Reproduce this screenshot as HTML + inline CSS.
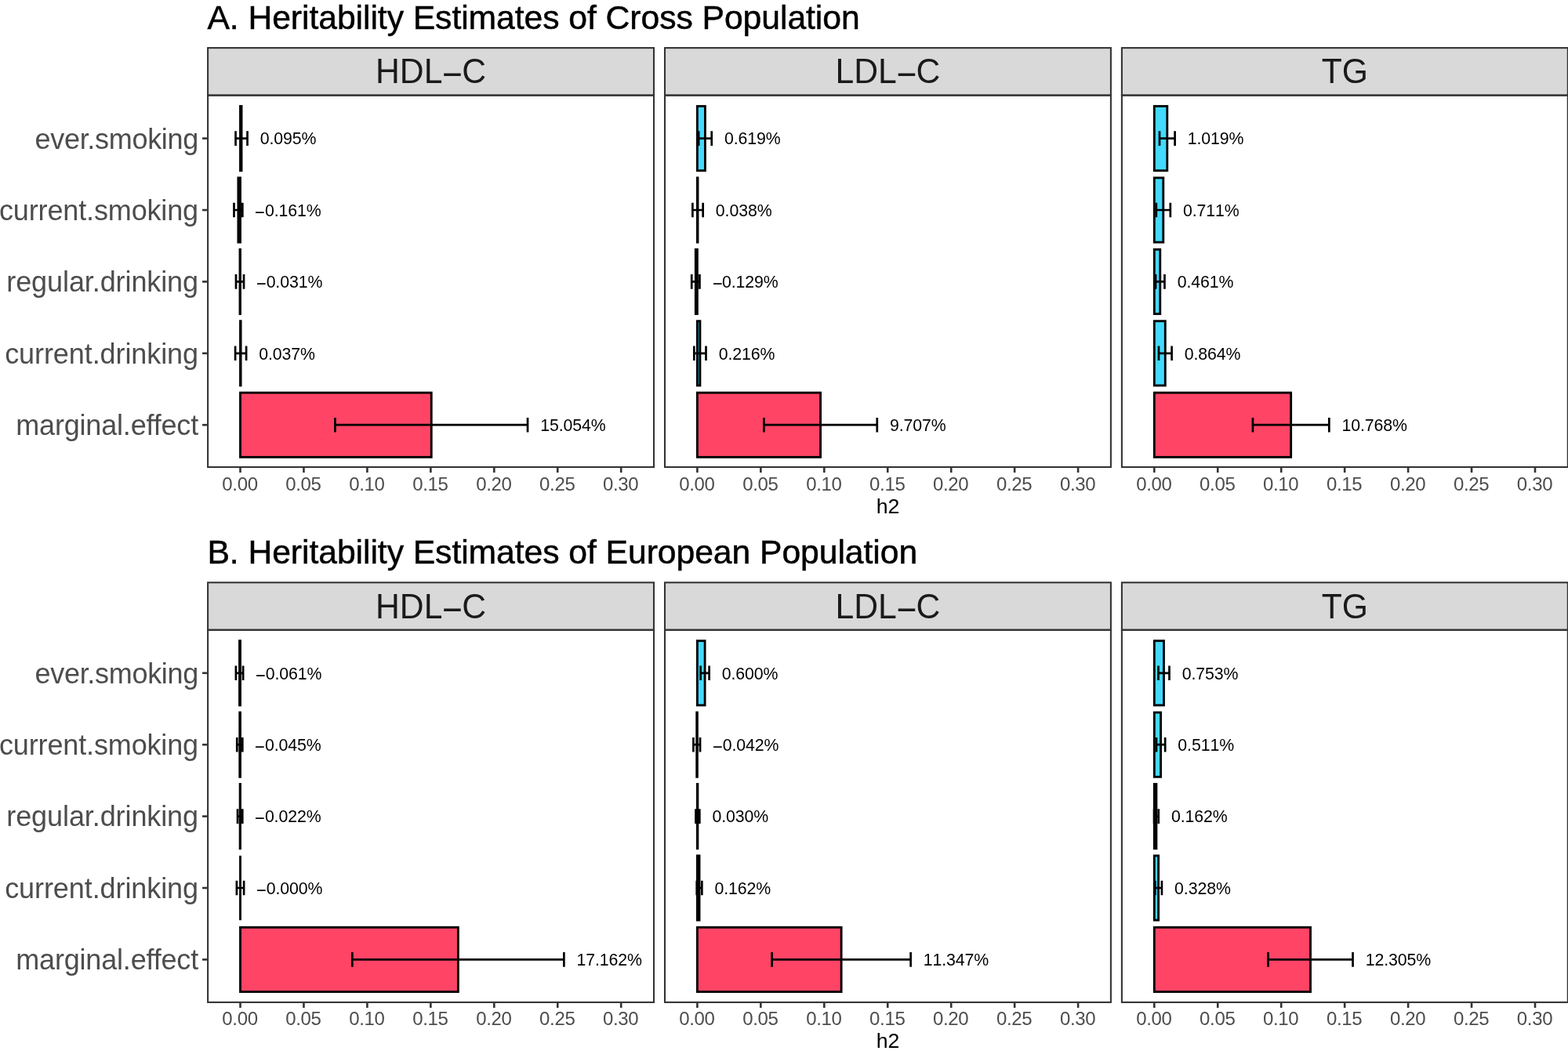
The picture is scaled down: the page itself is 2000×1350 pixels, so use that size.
<!DOCTYPE html>
<html lang="en">
<head>
<meta charset="utf-8">
<title>Heritability Estimates</title>
<style>
html,body{margin:0;padding:0;background:#fff;}
body{width:2000px;height:1350px;overflow:hidden;}
#fig{position:relative;width:2000px;height:1350px;background:#fff;overflow:hidden;font-family:"Liberation Sans",sans-serif;}
#fig svg{position:absolute;left:0;top:0;}
.t{position:absolute;white-space:nowrap;line-height:1;margin:0;padding:0;}
.n{font-kerning:none;}
.m{display:inline-block;width:0.584em;text-align:center;letter-spacing:0;transform:translateY(0.025em) scaleX(2.07);}
.ln{stroke:#333333;stroke-width:2.6;fill:none;}
.bd{stroke:#333333;stroke-width:2.07;}
.bar{stroke:#000;stroke-width:2.85;stroke-linejoin:miter;}
.eb{stroke:#000;stroke-width:2.7;fill:none;}
</style>
</head>
<body>
<div id="fig">
<svg width="2000" height="1350" viewBox="0 0 2000 1350" aria-hidden="true">
<line x1="258.06" x2="264.06" y1="176.6" y2="176.6" class="ln"/>
<line x1="258.06" x2="264.06" y1="268" y2="268" class="ln"/>
<line x1="258.06" x2="264.06" y1="359.4" y2="359.4" class="ln"/>
<line x1="258.06" x2="264.06" y1="450.8" y2="450.8" class="ln"/>
<line x1="258.06" x2="264.06" y1="542.2" y2="542.2" class="ln"/>
<rect x="306.5" y="135.5" width="1.54" height="82.2" fill="#44D9FF" class="bar"/>
<rect x="303.89" y="226.9" width="2.61" height="82.2" fill="#44D9FF" class="bar"/>
<rect x="306" y="318.3" width="0.5" height="82.2" fill="#44D9FF" class="bar"/>
<rect x="306.5" y="409.7" width="0.6" height="82.2" fill="#44D9FF" class="bar"/>
<rect x="306.5" y="501.1" width="243.72" height="82.2" fill="#FF4466" class="bar"/>
<path d="M300.54 167.3V185.9M300.54 176.6H315.54M315.54 167.3V185.9" class="eb"/>
<path d="M298.49 258.7V277.3M298.49 268H309.29M309.29 258.7V277.3" class="eb"/>
<path d="M301 350.1V368.7M301 359.4H311M311 350.1V368.7" class="eb"/>
<path d="M300.1 441.5V460.1M300.1 450.8H314.1M314.1 441.5V460.1" class="eb"/>
<path d="M427.42 532.9V551.5M427.42 542.2H673.02M673.02 532.9V551.5" class="eb"/>
<rect x="265.1" y="61.1" width="568.9" height="60.4" fill="#D9D9D9" class="bd"/>
<rect x="265.1" y="121.7" width="568.9" height="474.3" fill="none" class="bd"/>
<line x1="306.5" x2="306.5" y1="597.03" y2="603.03" class="ln"/>
<line x1="387.45" x2="387.45" y1="597.03" y2="603.03" class="ln"/>
<line x1="468.4" x2="468.4" y1="597.03" y2="603.03" class="ln"/>
<line x1="549.35" x2="549.35" y1="597.03" y2="603.03" class="ln"/>
<line x1="630.3" x2="630.3" y1="597.03" y2="603.03" class="ln"/>
<line x1="711.25" x2="711.25" y1="597.03" y2="603.03" class="ln"/>
<line x1="792.2" x2="792.2" y1="597.03" y2="603.03" class="ln"/>
<rect x="889.4" y="135.5" width="10.02" height="82.2" fill="#44D9FF" class="bar"/>
<rect x="889.4" y="226.9" width="0.62" height="82.2" fill="#44D9FF" class="bar"/>
<rect x="887.31" y="318.3" width="2.09" height="82.2" fill="#44D9FF" class="bar"/>
<rect x="889.4" y="409.7" width="3.5" height="82.2" fill="#44D9FF" class="bar"/>
<rect x="889.4" y="501.1" width="157.16" height="82.2" fill="#FF4466" class="bar"/>
<path d="M891.12 167.3V185.9M891.12 176.6H907.72M907.72 167.3V185.9" class="eb"/>
<path d="M883.37 258.7V277.3M883.37 268H896.67M896.67 258.7V277.3" class="eb"/>
<path d="M882.21 350.1V368.7M882.21 359.4H892.41M892.41 350.1V368.7" class="eb"/>
<path d="M885.3 441.5V460.1M885.3 450.8H900.5M900.5 441.5V460.1" class="eb"/>
<path d="M974.36 532.9V551.5M974.36 542.2H1118.76M1118.76 532.9V551.5" class="eb"/>
<rect x="848" y="61.1" width="568.9" height="60.4" fill="#D9D9D9" class="bd"/>
<rect x="848" y="121.7" width="568.9" height="474.3" fill="none" class="bd"/>
<line x1="889.4" x2="889.4" y1="597.03" y2="603.03" class="ln"/>
<line x1="970.35" x2="970.35" y1="597.03" y2="603.03" class="ln"/>
<line x1="1051.3" x2="1051.3" y1="597.03" y2="603.03" class="ln"/>
<line x1="1132.25" x2="1132.25" y1="597.03" y2="603.03" class="ln"/>
<line x1="1213.2" x2="1213.2" y1="597.03" y2="603.03" class="ln"/>
<line x1="1294.15" x2="1294.15" y1="597.03" y2="603.03" class="ln"/>
<line x1="1375.1" x2="1375.1" y1="597.03" y2="603.03" class="ln"/>
<rect x="1472.3" y="135.5" width="16.5" height="82.2" fill="#44D9FF" class="bar"/>
<rect x="1472.3" y="226.9" width="11.51" height="82.2" fill="#44D9FF" class="bar"/>
<rect x="1472.3" y="318.3" width="7.46" height="82.2" fill="#44D9FF" class="bar"/>
<rect x="1472.3" y="409.7" width="13.99" height="82.2" fill="#44D9FF" class="bar"/>
<rect x="1472.3" y="501.1" width="174.33" height="82.2" fill="#FF4466" class="bar"/>
<path d="M1479 167.3V185.9M1479 176.6H1498.6M1498.6 167.3V185.9" class="eb"/>
<path d="M1474.81 258.7V277.3M1474.81 268H1492.81M1492.81 258.7V277.3" class="eb"/>
<path d="M1474.06 350.1V368.7M1474.06 359.4H1485.46M1485.46 350.1V368.7" class="eb"/>
<path d="M1477.99 441.5V460.1M1477.99 450.8H1494.59M1494.59 441.5V460.1" class="eb"/>
<path d="M1597.93 532.9V551.5M1597.93 542.2H1695.33M1695.33 532.9V551.5" class="eb"/>
<rect x="1430.9" y="61.1" width="568.9" height="60.4" fill="#D9D9D9" class="bd"/>
<rect x="1430.9" y="121.7" width="568.9" height="474.3" fill="none" class="bd"/>
<line x1="1472.3" x2="1472.3" y1="597.03" y2="603.03" class="ln"/>
<line x1="1553.25" x2="1553.25" y1="597.03" y2="603.03" class="ln"/>
<line x1="1634.2" x2="1634.2" y1="597.03" y2="603.03" class="ln"/>
<line x1="1715.15" x2="1715.15" y1="597.03" y2="603.03" class="ln"/>
<line x1="1796.1" x2="1796.1" y1="597.03" y2="603.03" class="ln"/>
<line x1="1877.05" x2="1877.05" y1="597.03" y2="603.03" class="ln"/>
<line x1="1958" x2="1958" y1="597.03" y2="603.03" class="ln"/>
<line x1="258.06" x2="264.06" y1="858.8" y2="858.8" class="ln"/>
<line x1="258.06" x2="264.06" y1="950.2" y2="950.2" class="ln"/>
<line x1="258.06" x2="264.06" y1="1041.6" y2="1041.6" class="ln"/>
<line x1="258.06" x2="264.06" y1="1133" y2="1133" class="ln"/>
<line x1="258.06" x2="264.06" y1="1224.4" y2="1224.4" class="ln"/>
<rect x="305.51" y="817.7" width="0.99" height="82.2" fill="#44D9FF" class="bar"/>
<rect x="305.77" y="909.1" width="0.73" height="82.2" fill="#44D9FF" class="bar"/>
<rect x="306.14" y="1000.5" width="0.36" height="82.2" fill="#44D9FF" class="bar"/>
<rect x="305.07" y="1091.8" width="2.85" height="82.4" fill="#000"/>
<rect x="306.5" y="1183.3" width="277.85" height="82.2" fill="#FF4466" class="bar"/>
<path d="M300.91 849.5V868.1M300.91 858.8H310.11M310.11 849.5V868.1" class="eb"/>
<path d="M302.27 940.9V959.5M302.27 950.2H309.27M309.27 940.9V959.5" class="eb"/>
<path d="M303.04 1032.3V1050.9M303.04 1041.6H309.24M309.24 1032.3V1050.9" class="eb"/>
<path d="M301.9 1123.7V1142.3M301.9 1133H311.1M311.1 1123.7V1142.3" class="eb"/>
<path d="M449.35 1215.1V1233.7M449.35 1224.4H719.35M719.35 1215.1V1233.7" class="eb"/>
<rect x="265.1" y="743.3" width="568.9" height="60.4" fill="#D9D9D9" class="bd"/>
<rect x="265.1" y="803.9" width="568.9" height="475" fill="none" class="bd"/>
<line x1="306.5" x2="306.5" y1="1279.94" y2="1285.94" class="ln"/>
<line x1="387.45" x2="387.45" y1="1279.94" y2="1285.94" class="ln"/>
<line x1="468.4" x2="468.4" y1="1279.94" y2="1285.94" class="ln"/>
<line x1="549.35" x2="549.35" y1="1279.94" y2="1285.94" class="ln"/>
<line x1="630.3" x2="630.3" y1="1279.94" y2="1285.94" class="ln"/>
<line x1="711.25" x2="711.25" y1="1279.94" y2="1285.94" class="ln"/>
<line x1="792.2" x2="792.2" y1="1279.94" y2="1285.94" class="ln"/>
<rect x="889.4" y="817.7" width="9.71" height="82.2" fill="#44D9FF" class="bar"/>
<rect x="888.72" y="909.1" width="0.68" height="82.2" fill="#44D9FF" class="bar"/>
<rect x="889.4" y="1000.5" width="0.49" height="82.2" fill="#44D9FF" class="bar"/>
<rect x="889.4" y="1091.9" width="2.62" height="82.2" fill="#44D9FF" class="bar"/>
<rect x="889.4" y="1183.3" width="183.71" height="82.2" fill="#FF4466" class="bar"/>
<path d="M893.61 849.5V868.1M893.61 858.8H904.61M904.61 849.5V868.1" class="eb"/>
<path d="M884.42 940.9V959.5M884.42 950.2H893.02M893.02 940.9V959.5" class="eb"/>
<path d="M887.49 1032.3V1050.9M887.49 1041.6H892.29M892.29 1032.3V1050.9" class="eb"/>
<path d="M888.72 1123.7V1142.3M888.72 1133H895.32M895.32 1123.7V1142.3" class="eb"/>
<path d="M984.61 1215.1V1233.7M984.61 1224.4H1161.61M1161.61 1215.1V1233.7" class="eb"/>
<rect x="848" y="743.3" width="568.9" height="60.4" fill="#D9D9D9" class="bd"/>
<rect x="848" y="803.9" width="568.9" height="475" fill="none" class="bd"/>
<line x1="889.4" x2="889.4" y1="1279.94" y2="1285.94" class="ln"/>
<line x1="970.35" x2="970.35" y1="1279.94" y2="1285.94" class="ln"/>
<line x1="1051.3" x2="1051.3" y1="1279.94" y2="1285.94" class="ln"/>
<line x1="1132.25" x2="1132.25" y1="1279.94" y2="1285.94" class="ln"/>
<line x1="1213.2" x2="1213.2" y1="1279.94" y2="1285.94" class="ln"/>
<line x1="1294.15" x2="1294.15" y1="1279.94" y2="1285.94" class="ln"/>
<line x1="1375.1" x2="1375.1" y1="1279.94" y2="1285.94" class="ln"/>
<rect x="1472.3" y="817.7" width="12.19" height="82.2" fill="#44D9FF" class="bar"/>
<rect x="1472.3" y="909.1" width="8.27" height="82.2" fill="#44D9FF" class="bar"/>
<rect x="1472.3" y="1000.5" width="2.62" height="82.2" fill="#44D9FF" class="bar"/>
<rect x="1472.3" y="1091.9" width="5.31" height="82.2" fill="#44D9FF" class="bar"/>
<rect x="1472.3" y="1183.3" width="199.22" height="82.2" fill="#FF4466" class="bar"/>
<path d="M1477.49 849.5V868.1M1477.49 858.8H1491.49M1491.49 849.5V868.1" class="eb"/>
<path d="M1474.97 940.9V959.5M1474.97 950.2H1486.17M1486.17 940.9V959.5" class="eb"/>
<path d="M1472.12 1032.3V1050.9M1472.12 1041.6H1477.72M1477.72 1032.3V1050.9" class="eb"/>
<path d="M1473.31 1123.7V1142.3M1473.31 1133H1481.91M1481.91 1123.7V1142.3" class="eb"/>
<path d="M1617.52 1215.1V1233.7M1617.52 1224.4H1725.52M1725.52 1215.1V1233.7" class="eb"/>
<rect x="1430.9" y="743.3" width="568.9" height="60.4" fill="#D9D9D9" class="bd"/>
<rect x="1430.9" y="803.9" width="568.9" height="475" fill="none" class="bd"/>
<line x1="1472.3" x2="1472.3" y1="1279.94" y2="1285.94" class="ln"/>
<line x1="1553.25" x2="1553.25" y1="1279.94" y2="1285.94" class="ln"/>
<line x1="1634.2" x2="1634.2" y1="1279.94" y2="1285.94" class="ln"/>
<line x1="1715.15" x2="1715.15" y1="1279.94" y2="1285.94" class="ln"/>
<line x1="1796.1" x2="1796.1" y1="1279.94" y2="1285.94" class="ln"/>
<line x1="1877.05" x2="1877.05" y1="1279.94" y2="1285.94" class="ln"/>
<line x1="1958" x2="1958" y1="1279.94" y2="1285.94" class="ln"/>
</svg>
<div class="t" style="top:1px;font-size:42.67px;color:#000;letter-spacing:-0.05px;-webkit-text-stroke:0.5px #000;left:264.4px;">A. Heritability Estimates of Cross Population</div>
<div class="t" style="top:633px;font-size:26.67px;color:#000;left:1132.5px;transform:translateX(-50%);">h2</div>
<div class="t" style="top:160px;font-size:36px;color:#4D4D4D;letter-spacing:-0.3px;right:1747px;">ever.smoking</div>
<div class="t" style="top:251px;font-size:36px;color:#4D4D4D;letter-spacing:-0.14px;right:1747px;">current.smoking</div>
<div class="t" style="top:342px;font-size:36px;color:#4D4D4D;letter-spacing:-0.09px;right:1747px;">regular.drinking</div>
<div class="t" style="top:434px;font-size:36px;color:#4D4D4D;letter-spacing:-0.08px;right:1747px;">current.drinking</div>
<div class="t" style="top:525px;font-size:36px;color:#4D4D4D;letter-spacing:-0.18px;right:1747px;">marginal.effect</div>
<div class="t n" style="top:167px;font-size:21.3px;color:#000;letter-spacing:-0.1px;left:331.74px;">0.095%</div>
<div class="t n" style="top:259px;font-size:21.3px;color:#000;letter-spacing:-0.1px;left:325.49px;"><span class="m">-</span>0.161%</div>
<div class="t n" style="top:350px;font-size:21.3px;color:#000;letter-spacing:-0.1px;left:327.2px;"><span class="m">-</span>0.031%</div>
<div class="t n" style="top:442px;font-size:21.3px;color:#000;letter-spacing:-0.1px;left:330.3px;">0.037%</div>
<div class="t n" style="top:533px;font-size:21.3px;color:#000;letter-spacing:-0.1px;left:689.22px;">15.054%</div>
<div class="t" style="top:70px;font-size:42.67px;color:#1A1A1A;left:549.55px;transform:translateX(-50%) scaleY(1.045);transform-origin:50% 36px;">HDL<span class="m">-</span>C</div>
<div class="t n" style="top:606px;font-size:24px;color:#4D4D4D;letter-spacing:-0.35px;left:306px;transform:translateX(-50%);">0.00</div>
<div class="t n" style="top:606px;font-size:24px;color:#4D4D4D;letter-spacing:-0.35px;left:386.95px;transform:translateX(-50%);">0.05</div>
<div class="t n" style="top:606px;font-size:24px;color:#4D4D4D;letter-spacing:-0.35px;left:467.9px;transform:translateX(-50%);">0.10</div>
<div class="t n" style="top:606px;font-size:24px;color:#4D4D4D;letter-spacing:-0.35px;left:548.85px;transform:translateX(-50%);">0.15</div>
<div class="t n" style="top:606px;font-size:24px;color:#4D4D4D;letter-spacing:-0.35px;left:629.8px;transform:translateX(-50%);">0.20</div>
<div class="t n" style="top:606px;font-size:24px;color:#4D4D4D;letter-spacing:-0.35px;left:710.75px;transform:translateX(-50%);">0.25</div>
<div class="t n" style="top:606px;font-size:24px;color:#4D4D4D;letter-spacing:-0.35px;left:791.7px;transform:translateX(-50%);">0.30</div>
<div class="t n" style="top:167px;font-size:21.3px;color:#000;letter-spacing:-0.1px;left:923.92px;">0.619%</div>
<div class="t n" style="top:259px;font-size:21.3px;color:#000;letter-spacing:-0.1px;left:912.87px;">0.038%</div>
<div class="t n" style="top:350px;font-size:21.3px;color:#000;letter-spacing:-0.1px;left:908.61px;"><span class="m">-</span>0.129%</div>
<div class="t n" style="top:442px;font-size:21.3px;color:#000;letter-spacing:-0.1px;left:916.7px;">0.216%</div>
<div class="t n" style="top:533px;font-size:21.3px;color:#000;letter-spacing:-0.1px;left:1134.96px;">9.707%</div>
<div class="t" style="top:70px;font-size:42.67px;color:#1A1A1A;left:1132.45px;transform:translateX(-50%) scaleY(1.045);transform-origin:50% 36px;">LDL<span class="m">-</span>C</div>
<div class="t n" style="top:606px;font-size:24px;color:#4D4D4D;letter-spacing:-0.35px;left:888.9px;transform:translateX(-50%);">0.00</div>
<div class="t n" style="top:606px;font-size:24px;color:#4D4D4D;letter-spacing:-0.35px;left:969.85px;transform:translateX(-50%);">0.05</div>
<div class="t n" style="top:606px;font-size:24px;color:#4D4D4D;letter-spacing:-0.35px;left:1050.8px;transform:translateX(-50%);">0.10</div>
<div class="t n" style="top:606px;font-size:24px;color:#4D4D4D;letter-spacing:-0.35px;left:1131.75px;transform:translateX(-50%);">0.15</div>
<div class="t n" style="top:606px;font-size:24px;color:#4D4D4D;letter-spacing:-0.35px;left:1212.7px;transform:translateX(-50%);">0.20</div>
<div class="t n" style="top:606px;font-size:24px;color:#4D4D4D;letter-spacing:-0.35px;left:1293.65px;transform:translateX(-50%);">0.25</div>
<div class="t n" style="top:606px;font-size:24px;color:#4D4D4D;letter-spacing:-0.35px;left:1374.6px;transform:translateX(-50%);">0.30</div>
<div class="t n" style="top:167px;font-size:21.3px;color:#000;letter-spacing:-0.1px;left:1514.8px;">1.019%</div>
<div class="t n" style="top:259px;font-size:21.3px;color:#000;letter-spacing:-0.1px;left:1509.01px;">0.711%</div>
<div class="t n" style="top:350px;font-size:21.3px;color:#000;letter-spacing:-0.1px;left:1501.66px;">0.461%</div>
<div class="t n" style="top:442px;font-size:21.3px;color:#000;letter-spacing:-0.1px;left:1510.79px;">0.864%</div>
<div class="t n" style="top:533px;font-size:21.3px;color:#000;letter-spacing:-0.1px;left:1711.53px;">10.768%</div>
<div class="t" style="top:70px;font-size:42.67px;color:#1A1A1A;left:1715.35px;transform:translateX(-50%) scaleY(1.045);transform-origin:50% 36px;">TG</div>
<div class="t n" style="top:606px;font-size:24px;color:#4D4D4D;letter-spacing:-0.35px;left:1471.8px;transform:translateX(-50%);">0.00</div>
<div class="t n" style="top:606px;font-size:24px;color:#4D4D4D;letter-spacing:-0.35px;left:1552.75px;transform:translateX(-50%);">0.05</div>
<div class="t n" style="top:606px;font-size:24px;color:#4D4D4D;letter-spacing:-0.35px;left:1633.7px;transform:translateX(-50%);">0.10</div>
<div class="t n" style="top:606px;font-size:24px;color:#4D4D4D;letter-spacing:-0.35px;left:1714.65px;transform:translateX(-50%);">0.15</div>
<div class="t n" style="top:606px;font-size:24px;color:#4D4D4D;letter-spacing:-0.35px;left:1795.6px;transform:translateX(-50%);">0.20</div>
<div class="t n" style="top:606px;font-size:24px;color:#4D4D4D;letter-spacing:-0.35px;left:1876.55px;transform:translateX(-50%);">0.25</div>
<div class="t n" style="top:606px;font-size:24px;color:#4D4D4D;letter-spacing:-0.35px;left:1957.5px;transform:translateX(-50%);">0.30</div>
<div class="t" style="top:683px;font-size:42.67px;color:#000;letter-spacing:-0.05px;-webkit-text-stroke:0.5px #000;left:264.4px;">B. Heritability Estimates of European Population</div>
<div class="t" style="top:1315px;font-size:26.67px;color:#000;left:1132.5px;transform:translateX(-50%);">h2</div>
<div class="t" style="top:842px;font-size:36px;color:#4D4D4D;letter-spacing:-0.3px;right:1747px;">ever.smoking</div>
<div class="t" style="top:933px;font-size:36px;color:#4D4D4D;letter-spacing:-0.14px;right:1747px;">current.smoking</div>
<div class="t" style="top:1024px;font-size:36px;color:#4D4D4D;letter-spacing:-0.09px;right:1747px;">regular.drinking</div>
<div class="t" style="top:1116px;font-size:36px;color:#4D4D4D;letter-spacing:-0.08px;right:1747px;">current.drinking</div>
<div class="t" style="top:1207px;font-size:36px;color:#4D4D4D;letter-spacing:-0.18px;right:1747px;">marginal.effect</div>
<div class="t n" style="top:850px;font-size:21.3px;color:#000;letter-spacing:-0.1px;left:326.31px;"><span class="m">-</span>0.061%</div>
<div class="t n" style="top:941px;font-size:21.3px;color:#000;letter-spacing:-0.1px;left:325.47px;"><span class="m">-</span>0.045%</div>
<div class="t n" style="top:1032px;font-size:21.3px;color:#000;letter-spacing:-0.1px;left:325.44px;"><span class="m">-</span>0.022%</div>
<div class="t n" style="top:1124px;font-size:21.3px;color:#000;letter-spacing:-0.1px;left:327.3px;"><span class="m">-</span>0.000%</div>
<div class="t n" style="top:1215px;font-size:21.3px;color:#000;letter-spacing:-0.1px;left:735.55px;">17.162%</div>
<div class="t" style="top:753px;font-size:42.67px;color:#1A1A1A;left:549.55px;transform:translateX(-50%) scaleY(1.045);transform-origin:50% 36px;">HDL<span class="m">-</span>C</div>
<div class="t n" style="top:1288px;font-size:24px;color:#4D4D4D;letter-spacing:-0.35px;left:306px;transform:translateX(-50%);">0.00</div>
<div class="t n" style="top:1288px;font-size:24px;color:#4D4D4D;letter-spacing:-0.35px;left:386.95px;transform:translateX(-50%);">0.05</div>
<div class="t n" style="top:1288px;font-size:24px;color:#4D4D4D;letter-spacing:-0.35px;left:467.9px;transform:translateX(-50%);">0.10</div>
<div class="t n" style="top:1288px;font-size:24px;color:#4D4D4D;letter-spacing:-0.35px;left:548.85px;transform:translateX(-50%);">0.15</div>
<div class="t n" style="top:1288px;font-size:24px;color:#4D4D4D;letter-spacing:-0.35px;left:629.8px;transform:translateX(-50%);">0.20</div>
<div class="t n" style="top:1288px;font-size:24px;color:#4D4D4D;letter-spacing:-0.35px;left:710.75px;transform:translateX(-50%);">0.25</div>
<div class="t n" style="top:1288px;font-size:24px;color:#4D4D4D;letter-spacing:-0.35px;left:791.7px;transform:translateX(-50%);">0.30</div>
<div class="t n" style="top:850px;font-size:21.3px;color:#000;letter-spacing:-0.1px;left:920.81px;">0.600%</div>
<div class="t n" style="top:941px;font-size:21.3px;color:#000;letter-spacing:-0.1px;left:909.22px;"><span class="m">-</span>0.042%</div>
<div class="t n" style="top:1032px;font-size:21.3px;color:#000;letter-spacing:-0.1px;left:908.49px;">0.030%</div>
<div class="t n" style="top:1124px;font-size:21.3px;color:#000;letter-spacing:-0.1px;left:911.52px;">0.162%</div>
<div class="t n" style="top:1215px;font-size:21.3px;color:#000;letter-spacing:-0.1px;left:1177.81px;">11.347%</div>
<div class="t" style="top:753px;font-size:42.67px;color:#1A1A1A;left:1132.45px;transform:translateX(-50%) scaleY(1.045);transform-origin:50% 36px;">LDL<span class="m">-</span>C</div>
<div class="t n" style="top:1288px;font-size:24px;color:#4D4D4D;letter-spacing:-0.35px;left:888.9px;transform:translateX(-50%);">0.00</div>
<div class="t n" style="top:1288px;font-size:24px;color:#4D4D4D;letter-spacing:-0.35px;left:969.85px;transform:translateX(-50%);">0.05</div>
<div class="t n" style="top:1288px;font-size:24px;color:#4D4D4D;letter-spacing:-0.35px;left:1050.8px;transform:translateX(-50%);">0.10</div>
<div class="t n" style="top:1288px;font-size:24px;color:#4D4D4D;letter-spacing:-0.35px;left:1131.75px;transform:translateX(-50%);">0.15</div>
<div class="t n" style="top:1288px;font-size:24px;color:#4D4D4D;letter-spacing:-0.35px;left:1212.7px;transform:translateX(-50%);">0.20</div>
<div class="t n" style="top:1288px;font-size:24px;color:#4D4D4D;letter-spacing:-0.35px;left:1293.65px;transform:translateX(-50%);">0.25</div>
<div class="t n" style="top:1288px;font-size:24px;color:#4D4D4D;letter-spacing:-0.35px;left:1374.6px;transform:translateX(-50%);">0.30</div>
<div class="t n" style="top:850px;font-size:21.3px;color:#000;letter-spacing:-0.1px;left:1507.69px;">0.753%</div>
<div class="t n" style="top:941px;font-size:21.3px;color:#000;letter-spacing:-0.1px;left:1502.37px;">0.511%</div>
<div class="t n" style="top:1032px;font-size:21.3px;color:#000;letter-spacing:-0.1px;left:1493.92px;">0.162%</div>
<div class="t n" style="top:1124px;font-size:21.3px;color:#000;letter-spacing:-0.1px;left:1498.11px;">0.328%</div>
<div class="t n" style="top:1215px;font-size:21.3px;color:#000;letter-spacing:-0.1px;left:1741.72px;">12.305%</div>
<div class="t" style="top:753px;font-size:42.67px;color:#1A1A1A;left:1715.35px;transform:translateX(-50%) scaleY(1.045);transform-origin:50% 36px;">TG</div>
<div class="t n" style="top:1288px;font-size:24px;color:#4D4D4D;letter-spacing:-0.35px;left:1471.8px;transform:translateX(-50%);">0.00</div>
<div class="t n" style="top:1288px;font-size:24px;color:#4D4D4D;letter-spacing:-0.35px;left:1552.75px;transform:translateX(-50%);">0.05</div>
<div class="t n" style="top:1288px;font-size:24px;color:#4D4D4D;letter-spacing:-0.35px;left:1633.7px;transform:translateX(-50%);">0.10</div>
<div class="t n" style="top:1288px;font-size:24px;color:#4D4D4D;letter-spacing:-0.35px;left:1714.65px;transform:translateX(-50%);">0.15</div>
<div class="t n" style="top:1288px;font-size:24px;color:#4D4D4D;letter-spacing:-0.35px;left:1795.6px;transform:translateX(-50%);">0.20</div>
<div class="t n" style="top:1288px;font-size:24px;color:#4D4D4D;letter-spacing:-0.35px;left:1876.55px;transform:translateX(-50%);">0.25</div>
<div class="t n" style="top:1288px;font-size:24px;color:#4D4D4D;letter-spacing:-0.35px;left:1957.5px;transform:translateX(-50%);">0.30</div>
</div>
</body>
</html>
